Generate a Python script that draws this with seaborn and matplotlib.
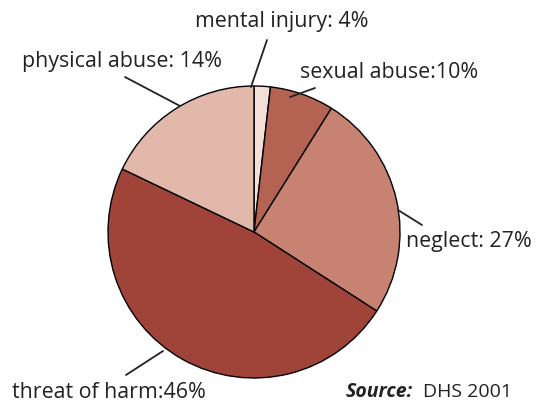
import matplotlib
matplotlib.use("Agg")
import matplotlib.pyplot as plt
import seaborn as sns

# dados (proporções das fatias, no sentido horário a partir do topo)
categorias = ["mental injury", "sexual abuse", "neglect", "threat of harm", "physical abuse"]
valores = [1.8, 7.1, 25.2, 48.0, 17.9]
rotulos = ["mental injury: 4%", "sexual abuse:10%", "neglect: 27%", "threat of harm:46%", "physical abuse: 14%"]
cores = ["#f3dfd8", "#b46252", "#c78272", "#a0443a", "#e1b8aa"]

sns.set_style("white")
plt.rcParams["font.family"] = ["Open Sans", "DejaVu Sans"]

fig = plt.figure(figsize=(5.48, 4.04), dpi=100)
ax = fig.add_axes([0, 0, 1, 1])

# coordenadas em pixels (y para cima)
H = 404
ax.pie(valores, colors=cores, startangle=90, counterclock=False,
       center=(254, H - 232), radius=146,
       wedgeprops=dict(edgecolor="black", linewidth=1.0))
ax.set_xlim(0, 548)
ax.set_ylim(0, H)
ax.set_aspect("equal")
ax.axis("off")

# linhas de chamada
linhas = [
    ((267, 40), (251, 87)),
    ((315, 88), (290, 97)),
    ((422, 225), (398, 210)),
    ((126, 375), (163, 351)),
    ((125, 77), (180, 106)),
]
for (x0, y0), (x1, y1) in linhas:
    ax.plot([x0, x1], [H - y0, H - y1], color="#222222", lw=1.3)

fs = 15.4
txt = dict(fontsize=fs, color="#222222", va="center")
ax.text(195, H - 22, rotulos[0], ha="left", **txt)
ax.text(300, H - 72, rotulos[1], ha="left", **txt)
ax.text(406, H - 242, rotulos[2], ha="left", **txt)
ax.text(12, H - 392, rotulos[3], ha="left", **txt)
ax.text(22, H - 62, rotulos[4], ha="left", **txt)

ax.text(346, H - 392, "Source:", ha="left", fontsize=14, fontweight="bold",
        fontstyle="italic", color="#222222", va="center")
ax.text(423, H - 392, "DHS 2001", ha="left", fontsize=14, color="#222222", va="center")

fig.savefig("out.png", dpi=100)
